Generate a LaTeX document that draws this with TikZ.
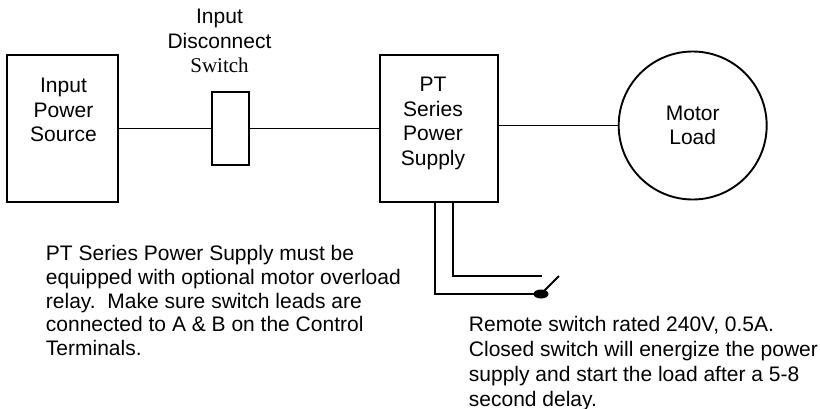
\documentclass[tikz,border=0pt]{standalone}
\usepackage{fontspec}
\setmainfont{Liberation Sans}
\newfontfamily\serifword{Liberation Serif}
\usepackage{tikz}
\usetikzlibrary{positioning}

\begin{document}
\begin{tikzpicture}[
            x = 1pt, y = -1pt, % pixel units, y going down
            line width = 1.9pt, % line style
            node distance = 90pt, % distance between nodes
            font = \fontsize{21}{24.5}\selectfont
        ]

        \tikzstyle{block}=[
            draw,
            rectangle,
            minimum width = 111pt,
            minimum height = 147pt,
            inner sep = 0pt
        ]
        \tikzstyle{txt}=[align = center, inner sep = 0pt]
        \tikzstyle{note}=[align = left, inner sep = 0pt, anchor = west]

        \useasboundingbox (0,0) rectangle (820,408);

	% input side
        \node[block] (src) at (62.5,128.5) {};
        \node[txt] (srctext) at (63.5,110) {Input\\Power\\Source};

        \node[draw, rectangle, minimum width = 37pt, minimum height = 73pt] (sw) [right=92pt of src] {};
        \node[txt] (swtext) at (219.5,41) {Input\\Disconnect\\{\serifword Switch}};

        \draw (src) -- (sw);

	% power supply
        \node[block, minimum width = 118pt] (pt) [right=129pt of sw] {};
        \node[txt] (pttext) at (433,123.5) {PT\\Series\\Power\\Supply};

        \draw (sw) -- (pt);

	% load
        \node[draw, circle, minimum size = 148pt, txt] (motor) [right=119pt of pt, yshift=3pt] {Motor\\Load};

        \draw (motor.west -| pt.east) -- (motor.west);

	% remote switch
        \coordinate (hi) at (542,276);
        \coordinate (dot) at (541,294);
        \coordinate (blade) at (559,276);

        \draw ([xshift=14pt]pt.south) |- (hi);
        \draw ([xshift=-4pt]pt.south) |- (dot);
        \fill (dot) ellipse [x radius = 7.5pt, y radius = 4.5pt];
        \draw (dot) -- (blade);

	% notes
        \node[note, font = \fontsize{21}{23.8}\selectfont] (relaynote) at (45,300.5) {PT Series Power Supply must be\\equipped with optional motor overload\\relay.\ \ Make sure switch leads are\\connected to A \& B on the Control\\Terminals.};
        \node[note, font = \fontsize{21}{25}\selectfont] (remotenote) at (468,363.5) {Remote switch rated 240V, 0.5A.\\Closed switch will energize the power\\supply and start the load after a 5-8\\second delay.};

\end{tikzpicture}
\end{document}
